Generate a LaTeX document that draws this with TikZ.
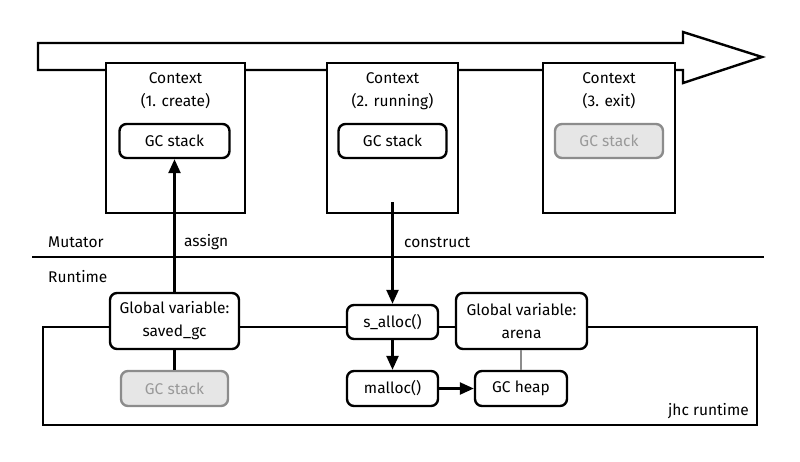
\documentclass[tikz,border=0pt]{standalone}
\usepackage{fontspec}
\setmainfont{Fira Sans}
\usetikzlibrary{arrows.meta}
\definecolor{gfill}{HTML}{E6E6E6}
\definecolor{gline}{HTML}{8C8C8C}
\definecolor{gtext}{HTML}{999999}
\begin{document}
\begin{tikzpicture}[x=1pt,y=-1pt,line width=2.4pt,
  font=\fontsize{15.5}{23}\selectfont,
  ctxbox/.style={draw,fill=white,minimum width=139pt,minimum height=150pt,inner sep=0pt},
  rbox/.style={draw,fill=white,rounded corners=7pt,align=center,inner sep=0pt},
  graybox/.style={rbox,draw=gline,fill=gfill,text=gtext},
  lbl/.style={inner sep=0pt,anchor=west},
  arr/.style={-{Triangle[length=14pt,width=12pt]}}]
\useasboundingbox (0,0) rectangle (800,461);
% timeline arrow
\draw[fill=white,line join=miter] (38,43) -- (683,43) -- (683,32) -- (762,57) -- (683,83) -- (683,70) -- (38,70) -- cycle;
% contexts
\node[ctxbox] (c1) at (175.5,138) {};
\node[ctxbox,minimum width=131pt] (c2) at (392.5,138) {};
\node[ctxbox,minimum width=132pt] (c3) at (609,138) {};
\node[align=center,inner sep=0pt] (t1) at (175.5,91) {Context\\(1. create)};
\node[align=center,inner sep=0pt] (t2) at (392.5,91) {Context\\(2. running)};
\node[align=center,inner sep=0pt] (t3) at (609,91) {Context\\(3. exit)};
\node[rbox,minimum width=110pt,minimum height=34pt] (gs1) at (174.5,141) {GC stack};
\node[rbox,minimum width=108pt,minimum height=34pt] (gs2) at (392.5,141) {GC stack};
\node[graybox,minimum width=108pt,minimum height=34pt] (gs3) at (609,141) {GC stack};
% separator
\coordinate (sepL) at (32,257);
\coordinate (sepR) at (764,257);
\draw (sepL) -- (sepR);
\node[lbl] (mut) at (47,242) {Mutator};
\node[lbl] (run) at (47,277) {Runtime};
\node[lbl] (asg) at (183,242) {assign};
\node[lbl] (cons) at (403,242) {construct};
% runtime frame
\draw (43,327) rectangle (757,425);
\node[inner sep=0pt,anchor=east] (jhc) at (750,411) {jhc runtime};
\node[rbox,minimum width=129pt,minimum height=56pt] (saved) at (174.5,321) {Global variable:\\saved\_gc};
\node[graybox,minimum width=107pt,minimum height=35pt] (gsb) at (174.5,388.5) {GC stack};
\node[rbox,minimum width=91pt,minimum height=34pt] (salloc) at (392.5,322) {s\_alloc()};
\node[rbox,minimum width=91pt,minimum height=35pt] (malloc) at (392.5,388.5) {malloc()};
\node[rbox,minimum width=131pt,minimum height=56pt] (arena) at (521.5,321) {Global variable:\\arena};
\node[rbox,minimum width=92pt,minimum height=35pt] (heap) at (521,388.5) {GC heap};
% connectors
\draw[arr] (saved.north) -- (gs1.south);
\draw (saved.south) -- (gsb.north);
\coordinate (cstart) at (392.5,202);
\draw[arr] (cstart) -- (salloc.north);
\draw[arr] (salloc.south) -- (malloc.north);
\draw[arr] (malloc.east) -- (heap.west);
\draw[gline,line width=1.6pt] (arena.south -| heap.north) -- (heap.north);
\end{tikzpicture}
\end{document}
